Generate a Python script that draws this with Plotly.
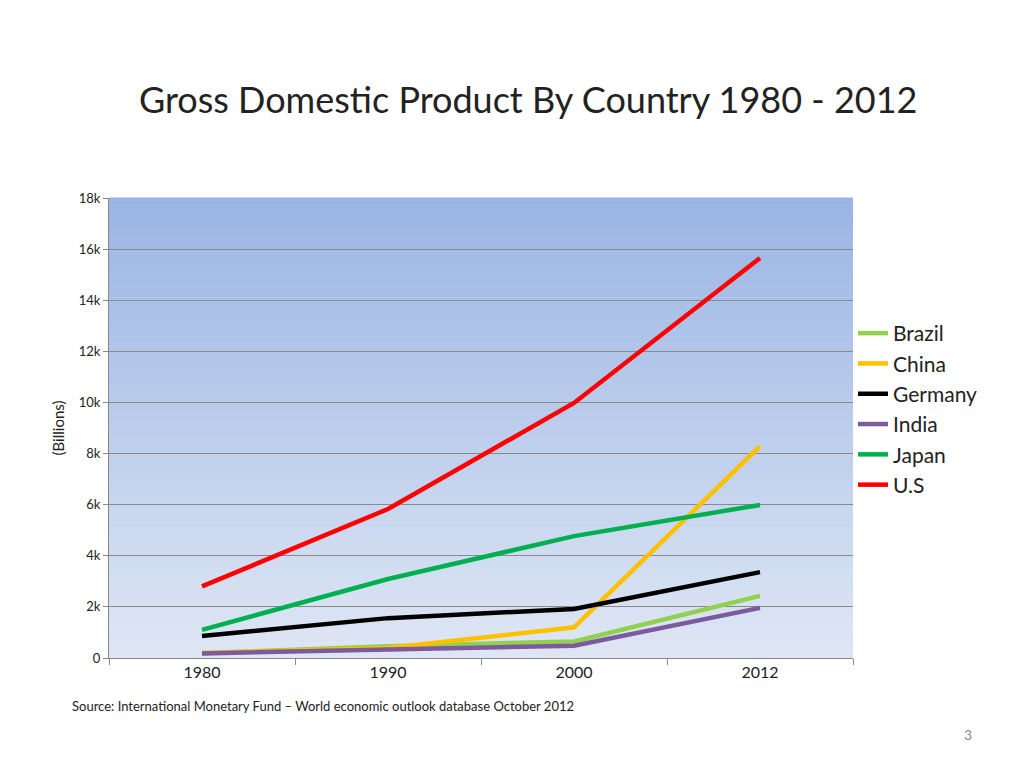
import plotly.graph_objects as go

years = ["1980", "1990", "2000", "2012"]
countries = ["Brazil", "China", "Germany", "India", "Japan", "U.S"]
brazil = [190, 460, 650, 2430]
china = [200, 390, 1200, 8290]
germany = [860, 1560, 1920, 3360]
india = [180, 320, 480, 1960]
japan = [1100, 3090, 4770, 5990]
us = [2800, 5830, 9980, 15650]
series = [brazil, china, germany, india, japan, us]
colors = ["#92D050", "#FFC000", "#000000", "#7030A0", "#00B050", "#FF0000"]
colors[3] = "#7B5A9E"

fig = go.Figure()
for name, vals, c in zip(countries, series, colors):
    fig.add_trace(go.Scatter(x=years, y=vals, name=name, mode="lines",
                             line=dict(color=c, width=4.5)))

# gradient background bands
n = 60
top = (154, 181, 228)
bot = (222, 230, 244)
shapes = []
for i in range(n):
    t = i / (n - 1)
    col = tuple(int(round(top[k] + (bot[k] - top[k]) * t)) for k in range(3))
    shapes.append(dict(type="rect", xref="x domain", yref="y domain",
                       x0=0, x1=1, y0=1 - (i + 1) / n, y1=1 - i / n + 0.001,
                       fillcolor="rgb(%d,%d,%d)" % col, line=dict(width=0),
                       layer="below"))

font = "Lato, 'Open Sans', sans-serif"
fig.update_layout(
    width=1024, height=768,
    paper_bgcolor="white", plot_bgcolor="rgba(0,0,0,0)",
    margin=dict(l=101, r=179, t=190, b=118),
    shapes=shapes,
    title=dict(text="Gross Domestic Product By Country 1980 - 2012",
               x=0.508, xanchor="center", y=0.88, yanchor="middle",
               font=dict(family=font, size=36, color="#222")),
    font=dict(family=font, color="#222"),
    legend=dict(x=1.0, xanchor="left", y=0.75, yanchor="top",
                font=dict(size=21), tracegroupgap=0, itemwidth=30,
                bgcolor="rgba(0,0,0,0)"),
    xaxis=dict(type="category", tickson="boundaries", ticks="outside",
               ticklen=6, tickcolor="#888", showline=True, linecolor="#888",
               showgrid=False, tickfont=dict(size=16), range=[-0.5, 3.5]),
    yaxis=dict(range=[0, 18000], dtick=2000, showgrid=True, gridcolor="#8a8a8a",
               gridwidth=1, showline=True, linecolor="#888", ticks="outside",
               ticklen=5, tickcolor="#888", tickfont=dict(size=13),
               zeroline=False,
               title=dict(text="(Billions)", font=dict(size=15), standoff=10)),
    annotations=[
        dict(text="Source: International Monetary Fund – World economic outlook database October 2012",
             xref="paper", yref="paper", x=-0.053, y=-0.125, xanchor="left",
             showarrow=False, font=dict(size=13)),
        dict(text="3", xref="paper", yref="paper", x=1.155, y=-0.19,
             xanchor="center", showarrow=False, font=dict(size=14, color="#888")),
    ],
)
fig.write_html("out.html")
